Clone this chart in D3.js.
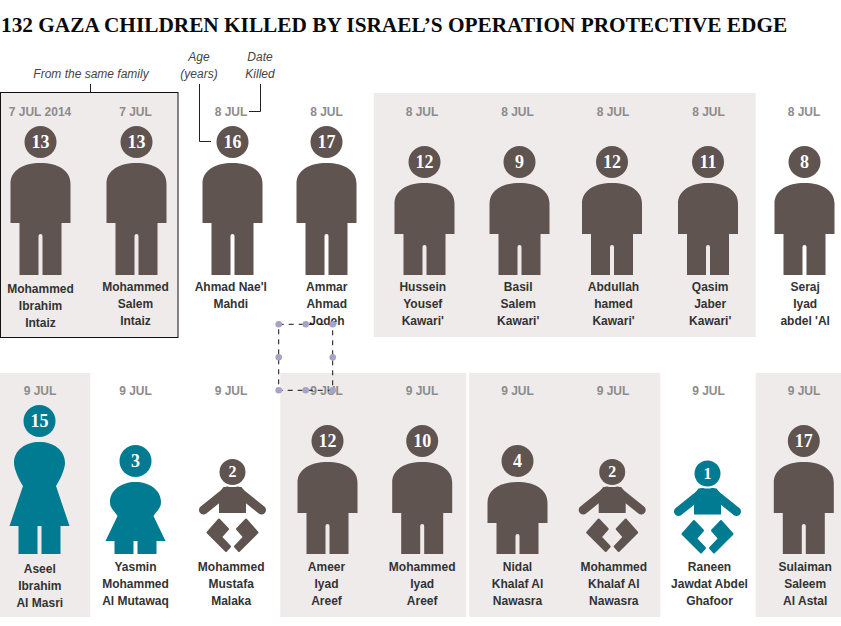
<!DOCTYPE html>
<html><head><meta charset="utf-8">
<script src="https://cdn.jsdelivr.net/npm/d3@7"></script>
<style>html,body{margin:0;padding:0;background:#fff}svg{display:block}</style>
</head><body><div id="c"></div>
<script>
// ---- data ----
const titleText = "132 GAZA CHILDREN KILLED BY ISRAEL’S OPERATION PROTECTIVE EDGE";
const row1Dates = ["7 JUL 2014","7 JUL","8 JUL","8 JUL","8 JUL","8 JUL","8 JUL","8 JUL","8 JUL"];
const row1Ages = [13,13,16,17,12,9,12,11,8];
const row1Figures = ["tall","tall","tall","tall","mid","mid","mid","mid","mid"];
const row1Colors = ["m","m","m","m","m","m","m","m","m"];
const row1Names = [["Mohammed","Ibrahim","Intaiz"],["Mohammed","Salem","Intaiz"],["Ahmad Nae'l","Mahdi"],["Ammar","Ahmad","Jodeh"],["Hussein","Yousef","Kawari'"],["Basil","Salem","Kawari'"],["Abdullah","hamed","Kawari'"],["Qasim","Jaber","Kawari'"],["Seraj","Iyad","abdel 'Al"]];
const row2Dates = ["9 JUL","9 JUL","9 JUL","9 JUL","9 JUL","9 JUL","9 JUL","9 JUL","9 JUL"];
const row2Ages = [15,3,2,12,10,4,2,1,17];
const row2Figures = ["woman","girl","baby","mid","mid","short","baby","baby","mid"];
const row2Colors = ["f","f","m","m","m","m","m","f","m"];
const row2Names = [["Aseel","Ibrahim","Al Masri"],["Yasmin","Mohammed","Al Mutawaq"],["Mohammed","Mustafa","Malaka"],["Ameer","Iyad","Areef"],["Mohammed","Iyad","Areef"],["Nidal","Khalaf Al","Nawasra"],["Mohammed","Khalaf Al","Nawasra"],["Raneen","Jawdat Abdel","Ghafoor"],["Sulaiman","Saleem","Al Astal"]];
const row1Panels = [[4,7]];
const row2Panels = [[0,0],[3,4],[5,6],[8,8]];
const familyColumns = [0,1];

// ---- layout (not data) ----
const W=841,H=626;
const colors={m:"#5f5450",f:"#007b91",panel:"#eeebea",name:"#333",date:"#8c8c8c",note:"#444"};
const iconNudge=[[1,1.5,2,.5,3,2.5,-.5,0,1],[0,.5,2,1.5,.7,.5,-.3,-.5,.3]];
const nameNudge=[[1,.5,.3,.8,1.3,1.2,1,2.2,1.7],[.3,.5,.7,.5,.7,.5,1.3,1.5,1.7]];
const nameDrop=[[2,0,0,0,0,0,0,0,0],[2,0,0,0,0,0,0,0,0]];
const babyDrop=[0,0,0,0,0,0,0,1.5,0];
const x=d3.scalePoint().domain(d3.range(9)).range([39.5,803.5]);
const foot=d3.scalePoint().domain([0,1]).range([275,554]);
const dateBase=d3.scalePoint().domain([0,1]).range([115.5,395]);
const nameBase=d3.scalePoint().domain([0,1]).range([291,571]);
const band=d3.scaleBand().domain(d3.range(9)).range([-8.25,851.25]);

const svg=d3.select("#c").append("svg").attr("width",W).attr("height",H).attr("viewBox",[0,0,W,H]);
const sans="'Liberation Sans',Arial,sans-serif", serif="'Liberation Serif','Times New Roman',serif";

svg.append("text").attr("x",1).attr("y",32).attr("font-family",serif).attr("font-weight",700)
  .attr("font-size",21.3).attr("fill","#0a0a0a").text(titleText);

// panels
const panelRect=(g,spans,y0,y1)=>g.selectAll(null).data(spans).join("rect")
  .attr("x",d=>Math.max(0,band(d[0])+ (d[0]===3?2:0)))
  .attr("width",d=>{const a=Math.max(0,band(d[0])+(d[0]===3?2:0));
     const b=band(d[1])+band.bandwidth()+(d[1]===0?3:d[1]===4?-3:0);return b-a;})
  .attr("y",y0).attr("height",y1-y0).attr("fill",colors.panel);
panelRect(svg.append("g"),row1Panels,93,337);
panelRect(svg.append("g"),row2Panels,373,617);
// family box
svg.append("rect").attr("x",.5).attr("y",92.5)
  .attr("width",band(familyColumns[1])+band.bandwidth()-5.25)
  .attr("height",245).attr("fill",colors.panel).attr("stroke","#111").attr("stroke-width",1);

// figure shapes
const boySpec={tall:{h:112,torso:60},mid:{h:92,torso:51},short:{h:72,torso:41}};
function boyPath(s){
  const p=d3.path(),sh=21,hw=30,lw=21,g=2;
  p.moveTo(-hw,sh);
  p.bezierCurveTo(-hw,7,-17,0,0,0);
  p.bezierCurveTo(17,0,hw,7,hw,sh);
  p.lineTo(hw,s.torso);p.lineTo(lw,s.torso);p.lineTo(lw,s.h);p.lineTo(g,s.h);
  p.lineTo(g,s.torso+13);p.quadraticCurveTo(g,s.torso+11,0,s.torso+11);p.quadraticCurveTo(-g,s.torso+11,-g,s.torso+13);
  p.lineTo(-g,s.h);p.lineTo(-lw,s.h);p.lineTo(-lw,s.torso);p.lineTo(-hw,s.torso);p.closePath();
  return p.toString();
}
function femalePath(h,skirt,waist,mid,wh){
  const p=d3.path(),hw=25.5,sw=30,lw=21,g=2;
  p.moveTo(-hw,mid);
  p.bezierCurveTo(-hw,8,-14,0,0,0);
  p.bezierCurveTo(14,0,hw,8,hw,mid);
  p.bezierCurveTo(hw,mid+6,wh+4,waist-6,wh,waist);
  p.lineTo(sw,skirt);p.lineTo(lw,skirt);p.lineTo(lw,h);p.lineTo(g,h);p.lineTo(g,skirt);
  p.lineTo(-g,skirt);p.lineTo(-g,h);p.lineTo(-lw,h);p.lineTo(-lw,skirt);p.lineTo(-sw,skirt);
  p.lineTo(-wh,waist);
  p.bezierCurveTo(-wh-4,waist-6,-hw,mid+6,-hw,mid);
  p.closePath();
  return p.toString();
}
const babyTorso=d3.line()([[-9,0],[9,0],[13.5,6],[13.5,26],[-13.5,26],[-13.5,6]])+"Z";
const babyArm=d3.line();
const legL=[[-13.5,32.5],[-4.5,42],[-11.5,50],[-2.5,59.5],[-6.5,64],[-25,45.5]];
const legR=legL.map(d=>[-d[0],d[1]]);

function drawRow(r,dates,ages,figs,cols,names){
  const g=svg.append("g").selectAll("g").data(d3.range(9)).join("g");
  g.append("text").attr("x",i=>x(i)+.5).attr("y",dateBase(r)).attr("text-anchor","middle")
   .attr("font-family",sans).attr("font-weight",700).attr("font-size",12).attr("fill",colors.date).text(i=>dates[i]);
  g.each(function(i){
    const n=d3.select(this),fig=figs[i],c=colors[cols[i]];
    const cx=x(i)+iconNudge[r][i],ft=foot(r);
    let top,cy,rad=16,fs=18;
    const ic=n.append("g");
    if(boySpec[fig]){
      const s=boySpec[fig];top=ft-s.h;cy=top-21;
      ic.append("path").attr("d",boyPath(s)).attr("fill",c);
    }else if(fig==="woman"){
      top=ft-112;cy=top-21;
      ic.append("path").attr("d",femalePath(112,84,44,21,16.5)).attr("fill",c);
    }else if(fig==="girl"){
      top=ft-72;cy=top-21;
      ic.append("path").attr("d",femalePath(72,59,34,20,18)).attr("fill",c);
    }else{
      top=ft-67+babyDrop[i];cy=top-15;rad=13;fs=16;
      ic.append("path").attr("d",babyTorso).attr("fill",c);
      [-1,1].forEach(k=>ic.append("path").attr("d",babyArm([[k*5.3,4],[k*29,23]]))
        .attr("fill","none").attr("stroke",c).attr("stroke-width",9).attr("stroke-linecap","round"));
      [legL,legR].forEach(l=>ic.append("path").attr("d",d3.line()(l)+"Z").attr("fill",c)
        .attr("stroke",c).attr("stroke-width",2).attr("stroke-linejoin","round"));
    }
    ic.attr("transform",`translate(${cx},${top})`);
    n.append("circle").attr("cx",cx).attr("cy",cy).attr("r",rad).attr("fill",c);
    n.append("text").attr("x",cx).attr("y",cy+fs*.34).attr("text-anchor","middle")
      .attr("font-family",serif).attr("font-weight",700).attr("font-size",fs).attr("fill","#fff").text(ages[i]);
    const nm=n.append("text").attr("text-anchor","middle").attr("font-family",sans).attr("font-weight",700)
      .attr("font-size",12).attr("fill",colors.name);
    nm.selectAll("tspan").data(names[i]).join("tspan")
      .attr("x",x(i)+nameNudge[r][i]).attr("y",(d,k)=>nameBase(r)+nameDrop[r][i]+k*17).text(d=>d);
  });
}
drawRow(0,row1Dates,row1Ages,row1Figures,row1Colors,row1Names);
drawRow(1,row2Dates,row2Ages,row2Figures,row2Colors,row2Names);

// annotations
const note=(cx,lines)=>lines.forEach((t,k)=>svg.append("text").attr("x",cx.x).attr("y",cx.y+k*17)
  .attr("text-anchor","middle").attr("font-family",sans).attr("font-style","italic").attr("font-size",12)
  .attr("fill",colors.note).text(t));
note({x:91,y:78},["From the same family"]);
note({x:199,y:61},["Age","(years)"]);
note({x:260,y:61},["Date","Killed"]);
const lead=pts=>svg.append("path").attr("d",d3.line()(pts)).attr("fill","none").attr("stroke","#222").attr("stroke-width",1);
lead([[90.5,84],[90.5,92]]);
lead([[199.5,84],[199.5,141.5],[211,141.5]]);
lead([[260.5,84],[260.5,111.5],[249,111.5]]);

// selection-box overlay present in the picture
const sx=[278.7,305.7,332.7], sy=[324.3,357.3,390.3];
svg.append("rect").attr("x",sx[0]).attr("y",sy[0]).attr("width",sx[2]-sx[0]).attr("height",sy[2]-sy[0])
  .attr("fill","none").attr("stroke","#111").attr("stroke-width",1).attr("stroke-dasharray","5,5");
const handles=d3.cross(sx,sy).filter(d=>!(d[0]===sx[1]&&d[1]===sy[1]));
svg.append("g").selectAll("circle").data(handles).join("circle")
  .attr("cx",d=>d[0]).attr("cy",d=>d[1]).attr("r",3.3).attr("fill","#a5a3c7");
</script></body></html>
